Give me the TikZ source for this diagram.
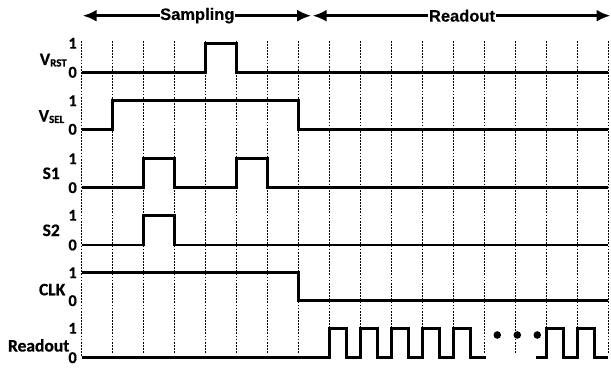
\documentclass[tikz,border=0pt]{standalone}
\usepackage{fontspec}
\setmainfont{Carlito}
\newfontfamily\lblfont[UprightFont=* Bold, FakeBold=0.6]{Carlito}
\newfontfamily\headfont[UprightFont=* Bold, FakeBold=0.5]{Liberation Sans}
\usetikzlibrary{arrows.meta}
\begin{document}
\begin{tikzpicture}[x=1pt,y=-1pt,
  wave/.style={line width=2.7pt, line join=miter, line cap=butt},
  gridline/.style={line width=1pt, dash pattern=on 1.8pt off 1.3pt},
  lvl/.style={font=\lblfont\fontsize{16.5}{16.5}\selectfont, anchor=east, inner sep=0pt},
  sig/.style={font=\lblfont\fontsize{17.5}{17.5}\selectfont, anchor=base east, inner sep=0pt},
  span/.style={line width=2.6pt, {Latex[length=14pt,width=12pt]}-{Latex[length=14pt,width=12pt]}},
  head/.style={font=\headfont\fontsize{16.5}{16.5}\selectfont, fill=white, inner sep=0.6pt}
]
\useasboundingbox (0,0) rectangle (611,369);

% time grid: x_k = 81.7 + 30.98 k
\foreach \k in {1,...,17}
  \draw[gridline] ({81.7+30.98*\k},41) -- ({81.7+30.98*\k},353);
\draw[gridline] (81.7,41) -- (81.7,357);

% phase arrows
\coordinate (sL) at (82.7,15.7);
\coordinate (sR) at (311.2,15.7);
\coordinate (rL) at (312.6,15.7);
\coordinate (rR) at (610.5,15.7);
\draw[span] (sL) -- (sR);
\draw[span] (rL) -- (rR);
\node[head] (samp) at (197.3,15.7) {Sampling};
\node[head] (rdo) at (462,15.7) {Readout};

% signal names
\node[sig] (nrst) at (67,65) {V\raisebox{-1.5pt}{\fontsize{11}{11}\selectfont RST}};
\node[sig] (nsel) at (64.5,121.5) {V\raisebox{-1.5pt}{\fontsize{11}{11}\selectfont SEL}};
\node[sig] (ns1) at (60,179) {S1};
\node[sig] (ns2) at (60,236) {S2};
\node[sig] (nclk) at (65.5,295.3) {CLK};
\node[sig] (nro) at (69.5,351.5) {Readout};

% logic levels
\foreach \n/\h/\l in {a/43.3/72.3, b/100.7/129.3, c/158.7/187.7, d/215.3/245, e/272.7/300.7, f/328.3/357.7}{
  \node[lvl] (one\n) at (77,\h) {1};
  \node[lvl] (zero\n) at (77,\l) {0};
}

% V_RST
\draw[wave] (81.7,72.3) -- (205.62,72.3) -- (205.62,43.3) -- (236.6,43.3) -- (236.6,72.3) -- (608.4,72.3);
% V_SEL
\draw[wave] (81.7,129.3) -- (112.68,129.3) -- (112.68,100.7) -- (298.56,100.7) -- (298.56,129.3) -- (608.4,129.3);
% S1
\draw[wave] (81.7,187.7) -- (143.66,187.7) -- (143.66,158.7) -- (174.64,158.7) -- (174.64,187.7)
  -- (236.6,187.7) -- (236.6,158.7) -- (267.58,158.7) -- (267.58,187.7) -- (608.4,187.7);
% S2
\draw[wave] (81.7,245) -- (143.66,245) -- (143.66,215.3) -- (174.64,215.3) -- (174.64,245) -- (608.4,245);
% CLK
\draw[wave] (81.7,272.7) -- (298.56,272.7) -- (298.56,300.7) -- (608.4,300.7);
% Readout
\draw[wave] (81.7,357.7) -- (329.54,357.7)
  \foreach \r in {329.54,360.52,391.5,422.48,453.46}{
    -- (\r,357.7) -- (\r,328.3) -- ({\r+17},328.3) -- ({\r+17},357.7)
  } -- (486,357.7);
\draw[wave] (536,357.7)
  \foreach \r in {546.4,577.38}{
    -- (\r,357.7) -- (\r,328.3) -- ({\r+17},328.3) -- ({\r+17},357.7)
  } -- (608.4,357.7);
\foreach \d in {497.3,517.3,537.3}
  \fill (\d,335) circle (3.8pt);
\end{tikzpicture}
\end{document}
